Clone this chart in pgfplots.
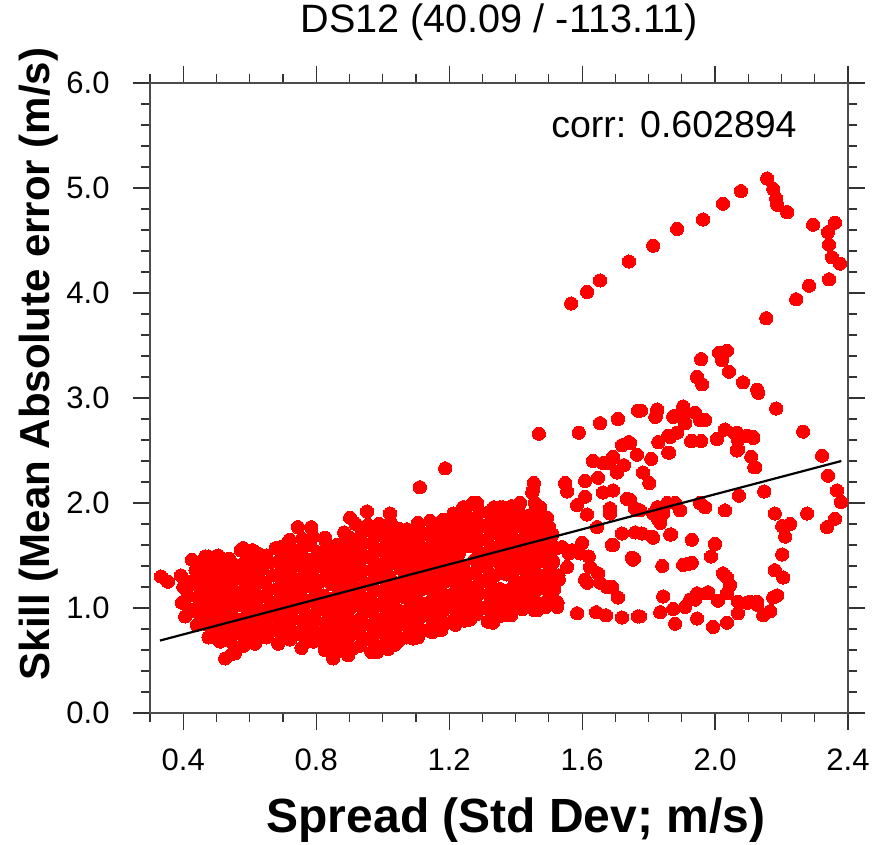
\documentclass[border=0pt]{standalone}
\usepackage{fontspec}
\setmainfont{Liberation Sans}
\usepackage{pgfplots}
\pgfplotsset{compat=1.18}
\begin{document}
\begin{tikzpicture}
\useasboundingbox (0,0) rectangle (882pt,844pt);
\begin{axis}[
  at={(150pt,131pt)}, anchor=south west,
  scale only axis, width=698pt, height=630pt,
  xmin=0.3, xmax=2.4, ymin=0, ymax=6,
  xtick={0.4,0.8,1.2,1.6,2.0,2.4},
  xticklabels={0.4,0.8,1.2,1.6,2.0,2.4},
  minor xtick={0.3,0.5,0.6,0.7,0.9,1.0,1.1,1.3,1.4,1.5,1.7,1.8,1.9,2.1,2.2,2.3},
  ytick={0,1,2,3,4,5,6},
  yticklabels={0.0,1.0,2.0,3.0,4.0,5.0,6.0},
  minor y tick num=4,
  tick align=outside,
  major tick length=17pt, minor tick length=9pt,
  every tick/.style={black!80, line width=1.2pt},
  axis line style={black!70, line width=1.5pt},
  every tick label/.append style={font=\fontsize{31}{31}\selectfont},
  xticklabel style={anchor=center, yshift=-30pt},
  yticklabel style={anchor=center, xshift=-45pt},
  title={DS12 (40.09 / -113.11)},
  title style={at={(0.5,1.0714)}, anchor=base, font=\fontsize{39.6}{40}\selectfont},
  xlabel={Spread (Std Dev; m/s)},
  every axis x label/.style={at={(0.5244,-0.1889)}, anchor=base, font=\bfseries\fontsize{48}{48}\selectfont},
  ylabel={Skill (Mean Absolute error (m/s)},
  every axis y label/.style={at={(-0.159,0.554)}, anchor=center, rotate=90, font=\bfseries\fontsize{42}{42}\selectfont},
  clip=false, clip marker paths=true,
]
\addplot[only marks, mark=*, mark size=6.6pt, mark options={fill=red, draw=red, line width=0pt}] coordinates {
(0.406,0.92)(0.396,1.05)(0.409,1.18)(0.393,1.31)
(0.441,0.84)(0.431,0.97)(0.444,1.10)(0.428,1.23)(0.437,1.36)(0.426,1.46)
(0.476,0.72)(0.466,0.85)(0.479,0.98)(0.463,1.11)(0.472,1.24)(0.461,1.37)(0.475,1.49)
(0.511,0.68)(0.501,0.81)(0.514,0.94)(0.498,1.07)(0.507,1.20)(0.496,1.33)(0.510,1.46)
(0.546,0.56)(0.536,0.69)(0.549,0.82)(0.533,0.95)(0.542,1.08)(0.531,1.21)(0.545,1.34)(0.538,1.47)
(0.581,0.64)(0.571,0.77)(0.584,0.90)(0.568,1.03)(0.577,1.16)(0.566,1.29)(0.580,1.42)(0.573,1.55)
(0.616,0.66)(0.606,0.79)(0.619,0.92)(0.603,1.05)(0.612,1.18)(0.601,1.31)(0.615,1.44)(0.608,1.55)
(0.651,0.72)(0.641,0.85)(0.654,0.98)(0.638,1.11)(0.647,1.24)(0.636,1.37)(0.650,1.50)
(0.686,0.66)(0.676,0.79)(0.689,0.92)(0.673,1.05)(0.682,1.18)(0.671,1.31)(0.685,1.44)(0.678,1.57)
(0.721,0.70)(0.711,0.83)(0.724,0.96)(0.708,1.09)(0.717,1.22)(0.706,1.35)(0.720,1.48)(0.713,1.62)
(0.756,0.62)(0.746,0.75)(0.759,0.88)(0.743,1.01)(0.752,1.14)(0.741,1.27)(0.755,1.40)(0.748,1.53)(0.758,1.66)
(0.791,0.68)(0.781,0.81)(0.794,0.94)(0.778,1.07)(0.787,1.20)(0.776,1.33)(0.790,1.46)(0.783,1.60)
(0.826,0.60)(0.816,0.73)(0.829,0.86)(0.813,0.99)(0.822,1.12)(0.811,1.25)(0.825,1.38)(0.818,1.51)(0.828,1.64)
(0.861,0.58)(0.851,0.71)(0.864,0.84)(0.848,0.97)(0.857,1.10)(0.846,1.23)(0.860,1.36)(0.853,1.49)(0.863,1.60)
(0.896,0.55)(0.886,0.68)(0.899,0.81)(0.883,0.94)(0.892,1.07)(0.881,1.20)(0.895,1.33)(0.888,1.46)(0.898,1.59)(0.884,1.72)
(0.931,0.64)(0.921,0.77)(0.934,0.90)(0.918,1.03)(0.927,1.16)(0.916,1.29)(0.930,1.42)(0.923,1.55)(0.933,1.68)(0.919,1.80)
(0.966,0.58)(0.956,0.71)(0.969,0.84)(0.953,0.97)(0.962,1.10)(0.951,1.23)(0.965,1.36)(0.958,1.49)(0.968,1.62)(0.954,1.75)
(1.001,0.64)(0.991,0.77)(1.004,0.90)(0.988,1.03)(0.997,1.16)(0.986,1.29)(1.000,1.42)(0.993,1.55)(1.003,1.68)(0.989,1.80)
(1.036,0.65)(1.026,0.78)(1.039,0.91)(1.023,1.04)(1.032,1.17)(1.021,1.30)(1.035,1.43)(1.028,1.56)(1.038,1.69)(1.024,1.82)
(1.071,0.72)(1.061,0.85)(1.074,0.98)(1.058,1.11)(1.067,1.24)(1.056,1.37)(1.070,1.50)(1.063,1.63)(1.073,1.75)
(1.106,0.72)(1.096,0.85)(1.109,0.98)(1.093,1.11)(1.102,1.24)(1.091,1.37)(1.105,1.50)(1.098,1.63)(1.108,1.76)
(1.141,0.80)(1.131,0.93)(1.144,1.06)(1.128,1.19)(1.137,1.32)(1.126,1.45)(1.140,1.58)(1.133,1.71)(1.143,1.83)
(1.176,0.79)(1.166,0.92)(1.179,1.05)(1.163,1.18)(1.172,1.31)(1.161,1.44)(1.175,1.57)(1.168,1.70)(1.178,1.83)
(1.211,0.88)(1.201,1.01)(1.214,1.14)(1.198,1.27)(1.207,1.40)(1.196,1.53)(1.210,1.66)(1.203,1.79)(1.213,1.90)
(1.246,0.88)(1.236,1.01)(1.249,1.14)(1.233,1.27)(1.242,1.40)(1.231,1.53)(1.245,1.66)(1.238,1.79)(1.248,1.92)
(1.281,0.94)(1.271,1.07)(1.284,1.20)(1.268,1.33)(1.277,1.46)(1.266,1.59)(1.280,1.72)(1.273,1.85)(1.283,1.98)
(1.316,0.87)(1.306,1.00)(1.319,1.13)(1.303,1.26)(1.312,1.39)(1.301,1.52)(1.315,1.65)(1.308,1.78)(1.318,1.91)
(1.351,0.92)(1.341,1.05)(1.354,1.18)(1.338,1.31)(1.347,1.44)(1.336,1.57)(1.350,1.70)(1.343,1.83)(1.353,1.96)
(1.386,0.93)(1.376,1.06)(1.389,1.19)(1.373,1.32)(1.382,1.45)(1.371,1.58)(1.385,1.71)(1.378,1.84)(1.388,1.97)
(1.421,0.99)(1.411,1.12)(1.424,1.25)(1.408,1.38)(1.417,1.51)(1.406,1.64)(1.420,1.77)(1.413,1.90)
(1.456,0.98)(1.446,1.11)(1.459,1.24)(1.443,1.37)(1.452,1.50)(1.441,1.63)(1.455,1.76)(1.448,1.89)(1.458,2.00)
(1.491,1.06)(1.481,1.19)(1.494,1.32)(1.478,1.45)(1.487,1.58)(1.476,1.71)(1.490,1.84)
(1.526,1.05)(1.516,1.18)(1.529,1.31)(1.513,1.44)(1.522,1.57)(1.511,1.70)
(0.420,0.985)(0.415,1.115)(0.419,1.245)
(0.455,0.905)(0.450,1.035)(0.454,1.165)(0.449,1.295)(0.453,1.41)
(0.490,0.785)(0.485,0.915)(0.489,1.045)(0.484,1.175)(0.488,1.305)(0.486,1.43)
(0.525,0.745)(0.520,0.875)(0.524,1.005)(0.519,1.135)(0.523,1.265)(0.521,1.395)
(0.560,0.625)(0.555,0.755)(0.559,0.885)(0.554,1.015)(0.558,1.145)(0.556,1.275)(0.561,1.405)
(0.595,0.705)(0.590,0.835)(0.594,0.965)(0.589,1.095)(0.593,1.225)(0.591,1.355)(0.596,1.485)
(0.630,0.725)(0.625,0.855)(0.629,0.985)(0.624,1.115)(0.628,1.245)(0.626,1.375)(0.631,1.495)
(0.665,0.785)(0.660,0.915)(0.664,1.045)(0.659,1.175)(0.661,1.435)
(0.700,0.725)(0.695,0.855)(0.699,0.985)(0.694,1.115)(0.698,1.245)(0.696,1.375)(0.701,1.505)
(0.735,0.765)(0.730,0.895)(0.734,1.025)(0.729,1.155)(0.733,1.285)(0.731,1.415)(0.736,1.55)
(0.770,0.685)(0.765,0.815)(0.769,0.945)(0.764,1.075)(0.768,1.205)(0.766,1.335)(0.771,1.465)(0.767,1.595)
(0.805,0.745)(0.800,0.875)(0.804,1.005)(0.799,1.135)(0.803,1.265)(0.801,1.395)(0.806,1.53)
(0.840,0.665)(0.835,0.795)(0.839,0.925)(0.834,1.055)(0.836,1.315)(0.841,1.445)(0.837,1.575)
(0.875,0.645)(0.870,0.775)(0.874,0.905)(0.869,1.035)(0.873,1.165)(0.871,1.295)(0.876,1.425)(0.872,1.545)
(0.910,0.615)(0.905,0.745)(0.909,0.875)(0.904,1.005)(0.908,1.135)(0.906,1.265)(0.911,1.395)(0.907,1.525)(0.909,1.655)
(0.945,0.705)(0.940,0.835)(0.944,0.965)(0.939,1.095)(0.941,1.355)(0.946,1.485)(0.942,1.615)(0.944,1.74)
(0.980,0.645)(0.975,0.775)(0.979,0.905)(0.974,1.035)(0.978,1.165)(0.976,1.295)(0.981,1.425)(0.977,1.555)(0.979,1.685)
(1.015,0.705)(1.010,0.835)(1.014,0.965)(1.009,1.095)(1.013,1.225)(1.011,1.355)(1.016,1.485)(1.012,1.615)(1.014,1.74)
(1.050,0.715)(1.045,0.845)(1.049,0.975)(1.044,1.105)(1.048,1.235)(1.051,1.495)(1.047,1.625)(1.049,1.755)
(1.085,0.785)(1.080,0.915)(1.084,1.045)(1.079,1.175)(1.083,1.305)(1.081,1.435)(1.086,1.565)(1.082,1.69)
(1.120,0.785)(1.115,0.915)(1.119,1.045)(1.114,1.175)(1.118,1.305)(1.116,1.435)(1.121,1.565)(1.117,1.695)
(1.155,0.865)(1.150,0.995)(1.154,1.125)(1.149,1.255)(1.153,1.385)(1.151,1.515)(1.156,1.645)(1.152,1.77)
(1.190,0.855)(1.185,0.985)(1.189,1.115)(1.184,1.245)(1.188,1.375)(1.186,1.505)(1.191,1.635)(1.187,1.765)
(1.225,0.945)(1.220,1.075)(1.224,1.205)(1.219,1.335)(1.223,1.465)(1.221,1.595)(1.226,1.725)(1.222,1.845)
(1.260,0.945)(1.255,1.075)(1.259,1.205)(1.254,1.335)(1.256,1.595)(1.261,1.725)(1.257,1.855)
(1.295,1.005)(1.290,1.135)(1.294,1.265)(1.289,1.395)(1.293,1.525)(1.291,1.655)(1.296,1.785)(1.292,1.915)
(1.330,0.935)(1.325,1.065)(1.329,1.195)(1.324,1.325)(1.328,1.455)(1.326,1.585)(1.331,1.715)(1.327,1.845)
(1.365,0.985)(1.360,1.115)(1.359,1.375)(1.363,1.505)(1.361,1.635)(1.366,1.765)(1.362,1.895)
(1.400,0.995)(1.395,1.125)(1.399,1.255)(1.394,1.385)(1.398,1.515)(1.396,1.645)(1.401,1.775)(1.397,1.905)
(1.435,1.055)(1.430,1.185)(1.434,1.315)(1.429,1.445)(1.433,1.575)(1.431,1.705)(1.436,1.835)
(1.470,1.045)(1.465,1.175)(1.469,1.305)(1.464,1.435)(1.468,1.565)(1.466,1.695)(1.471,1.825)(1.467,1.945)
(1.505,1.125)(1.500,1.255)(1.504,1.385)(1.499,1.515)(1.503,1.645)(1.501,1.77)
(0.333,1.30)(0.354,1.25)(0.400,1.20)(0.466,1.49)(0.505,1.50)(0.580,1.57)(0.625,1.52)(0.694,1.58)
(0.720,1.65)(0.745,1.77)(0.785,1.77)(0.790,1.68)(0.827,1.67)(0.863,1.55)(0.896,1.68)(0.902,1.86)
(0.953,1.92)(0.956,1.79)(0.977,1.68)(1.022,1.90)(1.046,1.65)(1.079,1.73)(1.106,1.81)(1.112,2.15)
(1.182,1.84)(1.188,2.33)(1.224,1.89)(1.242,1.96)(1.272,2.00)(1.284,2.00)(1.335,1.96)(1.362,1.96)
(1.413,2.00)(1.452,2.12)(1.450,2.10)(1.455,2.19)(1.474,1.96)(1.477,1.89)(1.495,1.86)(1.404,1.79)
(1.362,1.77)(1.500,1.74)(1.490,1.62)(1.510,1.46)(1.540,1.58)(1.560,1.52)(1.555,1.39)(1.530,1.27)
(1.510,1.14)(1.490,1.01)(1.465,0.98)(1.525,1.01)(1.374,0.93)(1.332,0.86)
(0.526,0.52)(0.556,0.57)(0.505,0.70)(0.586,0.67)(0.851,0.52)(0.902,0.63)(0.983,0.58)(1.016,0.61)
(1.046,0.68)(1.091,0.71)(1.149,0.77)(1.218,0.84)(1.263,0.89)(0.800,0.70)
(1.470,2.66)(1.590,2.67)(1.654,2.76)(1.708,2.80)(1.768,2.88)(1.633,2.40)(1.663,2.38)(1.693,2.43)
(1.720,2.55)(1.741,2.58)(1.726,2.36)(1.705,2.30)(1.549,2.19)(1.555,2.11)(1.609,2.21)(1.648,2.24)
(1.609,2.06)(1.585,1.98)(1.615,1.89)(1.663,2.10)(1.693,2.12)(1.735,2.04)(1.684,1.95)(1.684,1.90)
(1.759,1.95)(1.645,1.77)(1.720,1.71)(1.690,1.60)(1.750,1.48)(1.648,1.33)(1.675,1.20)(1.609,1.27)
(1.708,1.10)(1.585,0.95)(1.642,0.96)(1.672,0.93)(1.720,0.91)(1.768,0.92)(1.624,1.39)(1.594,1.52)
(1.753,1.46)(1.600,1.62)(1.620,1.49)(1.570,1.55)(1.615,1.24)(1.654,1.24)(1.690,1.20)
(1.744,2.57)(1.777,2.88)(1.826,2.88)(1.823,2.83)(1.880,2.83)(1.904,2.92)(1.913,2.86)(1.910,2.76)
(1.940,2.86)(1.955,2.79)(1.970,2.79)(1.783,2.29)(1.802,2.19)(1.808,2.42)(1.765,2.46)(1.862,2.48)
(1.829,2.58)(1.859,2.64)(1.886,2.67)(1.931,2.59)(1.958,2.59)(2.006,2.61)(2.030,2.70)(2.060,2.66)
(2.069,2.60)(2.097,2.64)(2.115,2.62)(2.066,2.50)(2.109,2.44)(2.118,2.34)(1.756,1.47)(1.814,1.67)
(1.865,1.70)(1.760,1.72)(1.835,1.81)(1.856,2.00)(1.880,2.00)(1.895,1.93)(1.844,1.90)(1.829,1.84)
(1.955,2.00)(1.970,1.96)(1.765,1.93)(1.774,1.93)(1.826,1.96)(1.745,2.03)(1.780,1.71)(1.810,1.68)
(1.868,1.70)(1.814,1.90)(1.693,1.60)(1.930,1.65)(2.000,1.61)(1.988,1.49)(1.918,1.42)(1.904,1.41)
(1.841,1.40)(1.930,1.43)(2.024,1.33)(2.036,1.29)(2.045,1.22)(2.036,1.14)(1.946,1.14)(1.979,1.15)
(1.946,1.12)(1.976,1.14)(1.940,1.08)(1.925,1.08)(2.009,1.07)(1.910,1.01)(1.874,0.99)(1.844,1.11)
(1.835,0.96)(1.774,0.92)(1.880,0.85)(1.946,0.90)(1.994,0.82)(2.036,0.86)(2.069,0.95)(2.069,1.06)
(2.097,1.05)(2.105,1.06)(2.127,1.03)(2.127,1.06)(2.145,0.93)(2.166,0.97)(2.175,1.10)(2.187,1.12)
(2.180,1.36)(2.205,1.29)(2.202,1.51)(2.211,1.68)(2.202,1.78)(2.226,1.80)(2.180,1.90)(2.277,1.90)
(2.337,1.77)(2.361,1.85)(2.379,2.01)(2.367,2.12)(2.340,2.26)(2.322,2.45)(2.265,2.68)(2.184,2.90)
(2.130,3.05)(2.084,3.15)(2.042,3.25)(2.036,3.45)(2.012,3.43)(2.021,3.36)(1.958,3.37)(1.946,3.20)
(1.961,3.13)(2.127,3.08)(2.148,2.11)(2.072,2.07)(2.030,1.93)(1.874,2.82)(1.964,2.79)(1.826,2.89)
(1.820,2.82)(2.066,2.67)(2.115,2.63)(2.069,2.51)(2.121,2.34)(1.928,2.59)(1.865,2.63)(1.859,2.48)
(1.693,2.44)(1.705,2.29)(1.675,2.38)
(1.567,3.90)(1.615,4.01)(1.654,4.12)(1.741,4.30)(1.814,4.45)(1.886,4.61)(1.964,4.70)(2.024,4.85)
(2.078,4.97)(2.157,5.09)(2.175,4.99)(2.184,4.90)(2.187,4.84)(2.217,4.77)(2.295,4.65)(2.361,4.67)
(2.340,4.58)(2.343,4.46)(2.352,4.34)(2.376,4.28)(2.343,4.13)(2.283,4.07)(2.244,3.94)(2.154,3.76)
};
\addplot[black, line width=2.2pt] coordinates {(0.33,0.69) (2.38,2.40)};
\node[anchor=base, font=\fontsize{37.5}{38}\selectfont] at (rel axis cs:0.7507,0.914) {corr: 0.602894};
\end{axis}
\end{tikzpicture}
\end{document}
